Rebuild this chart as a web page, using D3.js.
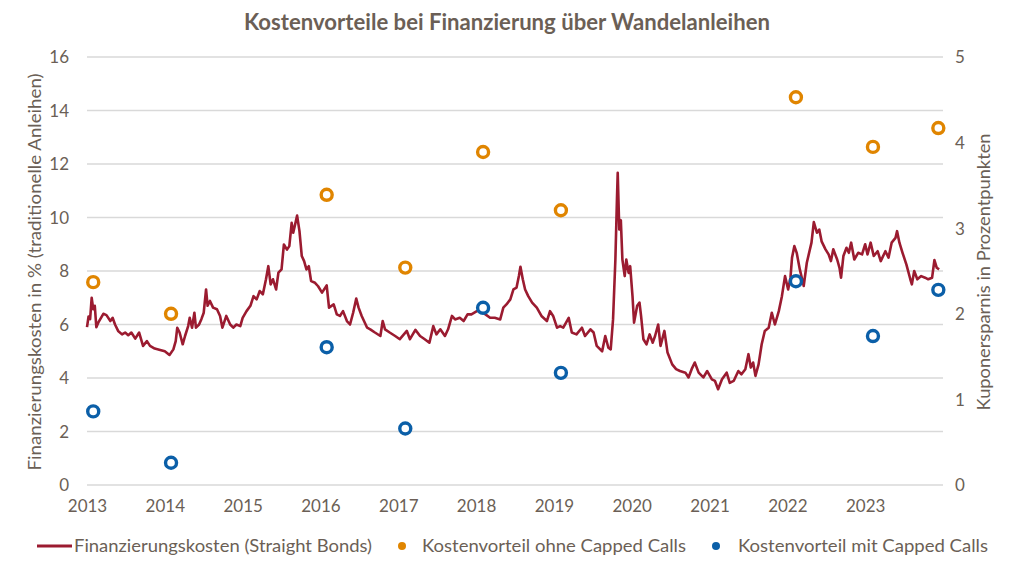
<!DOCTYPE html>
<html><head><meta charset="utf-8">
<script src="https://cdn.jsdelivr.net/npm/d3@7"></script>
<style>body{margin:0;background:#fff}svg{display:block}text{font-family:Lato,"Open Sans",sans-serif;fill:#6b5f56}</style>
</head><body><svg id="c" width="1015" height="570"></svg>
<script>
const title = "Kostenvorteile bei Finanzierung über Wandelanleihen";
const yLeftLabel = "Finanzierungskosten in % (traditionelle Anleihen)";
const yRightLabel = "Kuponersparnis in Prozentpunkten";
const xTicks = [2013,2014,2015,2016,2017,2018,2019,2020,2021,2022,2023];
const yLeftTicks = [0,2,4,6,8,10,12,14,16];
const yRightTicks = [0,1,2,3,4,5];
const seriesNames = ["Finanzierungskosten (Straight Bonds)","Kostenvorteil ohne Capped Calls","Kostenvorteil mit Capped Calls"];

// Financing cost line: [decimal year, %]
const costT = [2013.00,2013.02,2013.04,2013.06,2013.08,2013.10,2013.12,2013.15,2013.21,2013.25,2013.30,2013.33,2013.36,2013.40,2013.45,2013.49,2013.53,2013.57,2013.62,2013.67,2013.72,2013.77,2013.81,2013.87,2013.94,2014.00,2014.06,2014.11,2014.14,2014.16,2014.19,2014.23,2014.26,2014.30,2014.32,2014.35,2014.38,2014.40,2014.44,2014.47,2014.50,2014.53,2014.55,2014.58,2014.62,2014.67,2014.71,2014.74,2014.79,2014.84,2014.88,2014.92,2014.97,2015.00,2015.05,2015.10,2015.14,2015.18,2015.22,2015.26,2015.30,2015.33,2015.36,2015.39,2015.43,2015.46,2015.50,2015.53,2015.57,2015.60,2015.63,2015.65,2015.67,2015.70,2015.73,2015.76,2015.79,2015.82,2015.85,2015.88,2015.93,2015.97,2016.02,2016.08,2016.11,2016.17,2016.21,2016.25,2016.29,2016.34,2016.38,2016.42,2016.46,2016.49,2016.53,2016.60,2016.64,2016.70,2016.77,2016.80,2016.83,2016.89,2016.96,2017.02,2017.11,2017.15,2017.22,2017.28,2017.34,2017.40,2017.45,2017.49,2017.54,2017.60,2017.64,2017.69,2017.73,2017.79,2017.84,2017.89,2017.94,2018.01,2018.07,2018.12,2018.18,2018.24,2018.31,2018.35,2018.39,2018.44,2018.48,2018.52,2018.55,2018.57,2018.60,2018.63,2018.67,2018.72,2018.78,2018.84,2018.91,2018.95,2018.99,2019.04,2019.08,2019.12,2019.19,2019.23,2019.29,2019.36,2019.40,2019.47,2019.51,2019.55,2019.62,2019.66,2019.70,2019.73,2019.76,2019.79,2019.81,2019.82,2019.84,2019.86,2019.88,2019.91,2019.93,2019.96,2019.98,2020.01,2020.03,2020.07,2020.10,2020.12,2020.15,2020.19,2020.23,2020.27,2020.30,2020.34,2020.37,2020.42,2020.46,2020.52,2020.57,2020.62,2020.69,2020.73,2020.77,2020.81,2020.86,2020.92,2020.97,2021.03,2021.07,2021.11,2021.16,2021.22,2021.26,2021.31,2021.37,2021.41,2021.46,2021.50,2021.53,2021.56,2021.59,2021.63,2021.67,2021.71,2021.76,2021.80,2021.84,2021.89,2021.93,2021.97,2022.01,2022.04,2022.06,2022.09,2022.12,2022.16,2022.21,2022.25,2022.31,2022.34,2022.38,2022.41,2022.44,2022.49,2022.53,2022.56,2022.59,2022.64,2022.67,2022.69,2022.72,2022.76,2022.79,2022.82,2022.86,2022.91,2022.96,2023.00,2023.03,2023.07,2023.11,2023.16,2023.20,2023.26,2023.30,2023.34,2023.39,2023.41,2023.44,2023.48,2023.53,2023.58,2023.60,2023.63,2023.67,2023.72,2023.77,2023.81,2023.86,2023.89,2023.92,2023.95];
const costV = [5.9,6.3,6.2,7.0,6.57,6.7,5.9,6.1,6.4,6.35,6.13,6.25,6.0,5.76,5.63,5.7,5.6,5.7,5.47,5.7,5.2,5.38,5.2,5.1,5.05,5.0,4.86,5.07,5.38,5.88,5.7,5.26,5.57,5.94,6.25,5.88,6.44,5.88,6.0,6.2,6.44,7.31,6.7,6.88,6.63,6.57,6.32,5.88,6.32,6.0,5.88,6.0,5.94,6.25,6.5,6.7,7.06,6.94,7.25,7.13,7.69,8.18,7.5,7.69,7.31,7.94,8.06,8.99,8.8,8.93,9.8,9.43,9.68,10.07,9.5,8.56,8.37,8.06,8.18,7.62,7.56,7.43,7.19,7.46,6.63,6.75,6.38,6.32,6.5,6.13,6.0,6.44,6.97,6.63,6.32,5.88,5.82,5.7,5.57,6.13,5.82,5.7,5.57,5.45,5.76,5.45,5.8,5.57,5.45,5.32,5.94,5.63,5.82,5.57,5.82,6.32,6.19,6.25,6.13,6.38,6.38,6.5,6.57,6.38,6.25,6.25,6.19,6.63,6.75,6.94,7.31,7.38,7.81,8.16,7.69,7.31,7.06,6.82,6.63,6.32,6.13,6.5,6.32,5.88,5.94,5.88,6.25,5.7,5.63,5.88,5.57,5.82,5.7,5.2,5.0,5.57,5.13,5.07,6.19,8.43,10.67,11.67,9.55,9.9,8.43,7.81,8.43,7.93,8.18,7.06,6.07,6.7,6.82,6.32,5.45,5.26,5.63,5.32,5.57,6.0,5.2,5.76,4.95,4.51,4.33,4.26,4.2,4.02,4.33,4.58,4.2,4.02,4.26,3.95,3.89,3.58,3.95,4.2,3.82,3.89,4.26,4.14,4.33,4.89,4.39,4.58,4.08,4.51,5.26,5.76,5.88,6.44,6.0,6.5,7.06,7.81,7.31,7.75,8.5,8.93,8.68,8.06,7.44,8.31,9.06,9.83,9.43,9.55,9.11,8.81,8.62,8.37,8.81,8.43,8.12,7.75,8.56,8.87,8.68,9.06,8.43,8.68,8.62,9.0,8.62,9.06,8.56,8.74,8.37,8.74,8.5,9.06,9.24,9.49,9.06,8.68,8.24,7.69,7.5,8.0,7.69,7.81,7.75,7.69,7.75,8.41,8.12,8.06];

// Coupon savings (right axis, percentage points)
const pointT = [2013.08,2014.08,2016.08,2017.09,2018.09,2019.09,2022.11,2023.10,2023.94];
const ohneCapped = [2.37,2.00,3.39,2.54,3.89,3.21,4.53,3.95,4.17];
const mitCapped = [0.86,0.26,1.61,0.66,2.07,1.31,2.38,1.74,2.28];

const colors = {line:"#9b1b30", orange:"#e08500", blue:"#0b5fa8", grid:"#d9d9d9"};

const svg = d3.select("#c");
const x = d3.scaleLinear().domain([2013,2024]).range([87,943]);
const yL = d3.scaleLinear().domain([0,16]).range([485,57]);
const yR = d3.scaleLinear().domain([0,5]).range([485,57]);

// grid
svg.append("g").selectAll("line").data(yLeftTicks).join("line")
  .attr("x1",87).attr("x2",943).attr("y1",d=>yL(d)).attr("y2",d=>yL(d))
  .attr("stroke",colors.grid).attr("stroke-width",1.3);

// left axis
const gl = svg.append("g").attr("transform","translate(87,0)")
  .call(d3.axisLeft(yL).tickValues(yLeftTicks).tickFormat(d3.format("d")).tickSize(0).tickPadding(18));
gl.select(".domain").remove();
gl.selectAll("text").style("font-size","17px").attr("fill","#6b5f56").attr("font-family","Lato").attr("dy","0.35em");

// right axis
const gr = svg.append("g").attr("transform","translate(943,0)")
  .call(d3.axisRight(yR).tickValues(yRightTicks).tickFormat(d3.format("d")).tickSize(0).tickPadding(12));
gr.select(".domain").remove();
gr.selectAll("text").style("font-size","17px").attr("fill","#6b5f56").attr("font-family","Lato").attr("dy","0.35em");

// x axis
const gx = svg.append("g").attr("transform","translate(0,485)")
  .call(d3.axisBottom(x).tickValues(xTicks).tickFormat(d3.format("d")).tickSize(0).tickPadding(15));
gx.select(".domain").remove();
gx.selectAll("text").style("font-size","17px").attr("fill","#6b5f56").attr("font-family","Lato");

// line
const lineData = costT.map((t,i)=>[t,costV[i]]);
svg.append("path").datum(lineData)
  .attr("d", d3.line().x(d=>x(d[0])).y(d=>yL(d[1])))
  .attr("fill","none").attr("stroke",colors.line).attr("stroke-width",2.6).attr("stroke-linejoin","round");

// points
function pts(vals,color){
  svg.append("g").selectAll("circle").data(pointT.map((t,i)=>[t,vals[i]])).join("circle")
    .attr("cx",d=>x(d[0])).attr("cy",d=>yR(d[1])).attr("r",5.5)
    .attr("fill","#fff").attr("stroke",color).attr("stroke-width",3.4);
}
pts(ohneCapped,colors.orange);
pts(mitCapped,colors.blue);

// title
svg.append("text").attr("x",507).attr("y",30).attr("text-anchor","middle")
  .attr("font-weight","bold").style("font-size","22px").attr("fill","#5c5148")
  .attr("textLength",526).attr("lengthAdjust","spacingAndGlyphs").text(title);

// axis titles
svg.append("text").attr("transform","translate(41,272) rotate(-90)").attr("text-anchor","middle")
  .style("font-size","17px").attr("textLength",397).attr("lengthAdjust","spacingAndGlyphs").text(yLeftLabel);
svg.append("text").attr("transform","translate(990,272) rotate(-90)").attr("text-anchor","middle")
  .style("font-size","17px").attr("textLength",277).attr("lengthAdjust","spacingAndGlyphs").text(yRightLabel);

// legend
const lg = svg.append("g");
lg.append("line").attr("x1",37).attr("x2",72).attr("y1",546).attr("y2",546).attr("stroke",colors.line).attr("stroke-width",3);
lg.append("text").attr("x",74).attr("y",552).style("font-size","17px").attr("textLength",298).attr("lengthAdjust","spacingAndGlyphs").text(seriesNames[0]);
lg.append("circle").attr("cx",402).attr("cy",546).attr("r",4).attr("fill",colors.orange);
lg.append("text").attr("x",422).attr("y",552).style("font-size","17px").attr("textLength",264).attr("lengthAdjust","spacingAndGlyphs").text(seriesNames[1]);
lg.append("circle").attr("cx",716).attr("cy",546).attr("r",4).attr("fill",colors.blue);
lg.append("text").attr("x",738).attr("y",552).style("font-size","17px").attr("textLength",250).attr("lengthAdjust","spacingAndGlyphs").text(seriesNames[2]);
</script></body></html>
